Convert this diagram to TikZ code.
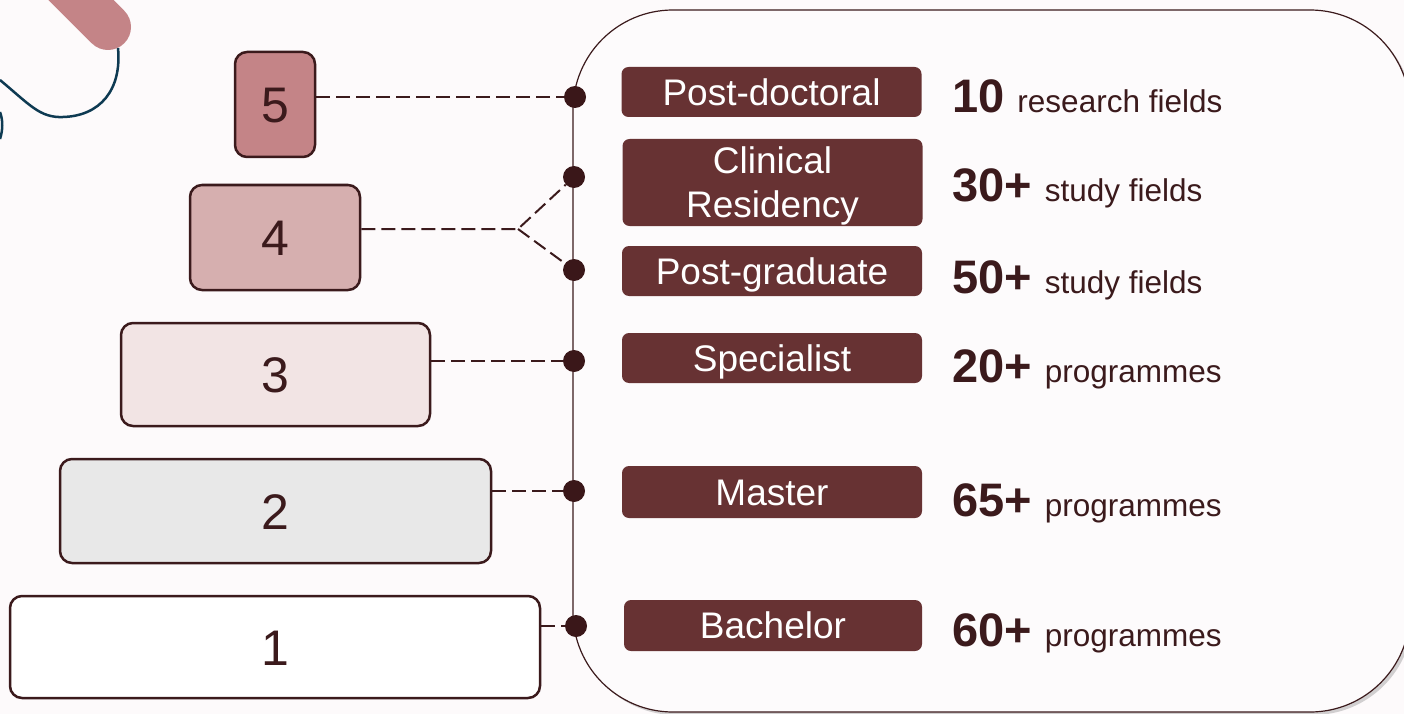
\documentclass[tikz,border=0pt]{standalone}
\usepackage{fontspec}
\setmainfont{Liberation Sans}
\usetikzlibrary{shadows}
\definecolor{bgc}{HTML}{FDFAFB}
\definecolor{panelc}{HTML}{FDFBFC}
\definecolor{borderc}{HTML}{3B1A1C}
\definecolor{rosefive}{HTML}{C48487}
\definecolor{rosefour}{HTML}{D6AFAF}
\definecolor{rosethree}{HTML}{F2E4E4}
\definecolor{graytwo}{HTML}{E8E8E8}
\definecolor{labfill}{HTML}{673233}
\definecolor{dotc}{HTML}{3A1719}
\definecolor{bluec}{HTML}{0E3A52}
\newcommand\bignum[1]{{\fontsize{47}{50}\selectfont\bfseries #1}\hspace{13pt}}
\tikzset{
  tier/.style={draw=borderc, line width=2.5pt, rounded corners=12pt, text=borderc,
    font=\fontsize{50}{52}\selectfont, text height=36pt, text depth=0pt, inner sep=0pt},
  labbox/.style={fill=labfill, text=white, rounded corners=7pt, minimum width=300pt,
    minimum height=50pt, font=\fontsize{37}{44}\selectfont, text height=26.5pt,
    text depth=0pt, inner sep=0pt, align=center},
  info/.style={anchor=base west, text=borderc, font=\fontsize{31.5}{34}\selectfont, inner sep=0pt},
  dotn/.style={circle, fill=dotc, minimum size=22pt, inner sep=0pt},
  conn/.style={draw=borderc, line width=2pt, dash pattern=on 14pt off 6pt},
  panel/.style={draw=borderc, line width=1.2pt, fill=panelc, rounded corners=100pt,
    drop shadow={shadow xshift=3pt, shadow yshift=-3pt, opacity=0.35}}
}
\begin{document}
\begin{tikzpicture}[x=1pt,y=-1pt]
\useasboundingbox (0,0) rectangle (1404,714);
\fill[bgc] (0,0) rectangle (1404,714);
% decoration
\draw[rosefive, line width=46pt, line cap=round] (50,-31) -- (108,27);
\draw[bluec, line width=2.5pt] (0,80) .. controls (30,105) and (40,118) .. (63,117)
  .. controls (100,116) and (122,90) .. (118,48);
\draw[bluec, line width=2.5pt] (0,112) .. controls (3,120) and (3,130) .. (0,139);
% panel
\node[panel, minimum width=837pt, minimum height=702pt, inner sep=0pt] (panel) at (991.5,361) {};
% tiers
\node[tier, fill=rosefive, minimum width=80pt, minimum height=105pt] (b5) at (275,104.5) {5};
\node[tier, fill=rosefour, minimum width=170pt, minimum height=105pt] (b4) at (275,237.5) {4};
\node[tier, fill=rosethree, minimum width=309pt, minimum height=103pt] (b3) at (275.5,374.5) {3};
\node[tier, fill=graytwo, minimum width=431pt, minimum height=104pt] (b2) at (275.5,511) {2};
\node[tier, fill=white, minimum width=530pt, minimum height=102pt] (b1) at (275,647) {1};
% dots
\node[dotn] (d5) at (575,97) {};
\node[dotn] (d4a) at (574,177) {};
\node[dotn] (d4b) at (574,270) {};
\node[dotn] (d3) at (574,361) {};
\node[dotn] (d2) at (574,491) {};
\node[dotn] (d1) at (576,626) {};
\coordinate (j4) at (518,229);
% connectors
\draw[conn] (b5.east |- d5) -- (d5);
\draw[conn] (b4.east |- j4) -- (j4) -- (d4a);
\draw[conn] (j4) -- (d4b);
\draw[conn] (b3.east |- d3) -- (d3);
\draw[conn] (b2.east |- d2) -- (d2);
\draw[conn] (b1.east |- d1) -- (d1);
% labels
\node[labbox] (l5) at (771.5,92) {Post-doctoral};
\node[labbox, minimum height=87pt, text height=70.5pt] (l4a) at (772.5,182.5) {Clinical\\Residency};
\node[labbox] (l4b) at (772,271) {Post-graduate};
\node[labbox] (l3) at (772,358) {Specialist};
\node[labbox, minimum height=52pt] (l2) at (772,492) {Master};
\node[labbox, minimum width=298pt, minimum height=51pt] (l1) at (773,625.5) {Bachelor};
% info
\node[info] (i5) at (952,113) {\bignum{10}research fields};
\node[info] (i4a) at (952,201) {\bignum{30+}study fields};
\node[info] (i4b) at (952,293) {\bignum{50+}study fields};
\node[info] (i3) at (952,382) {\bignum{20+}programmes};
\node[info] (i2) at (952,516) {\bignum{65+}programmes};
\node[info] (i1) at (952,646) {\bignum{60+}programmes};
\end{tikzpicture}
\end{document}
